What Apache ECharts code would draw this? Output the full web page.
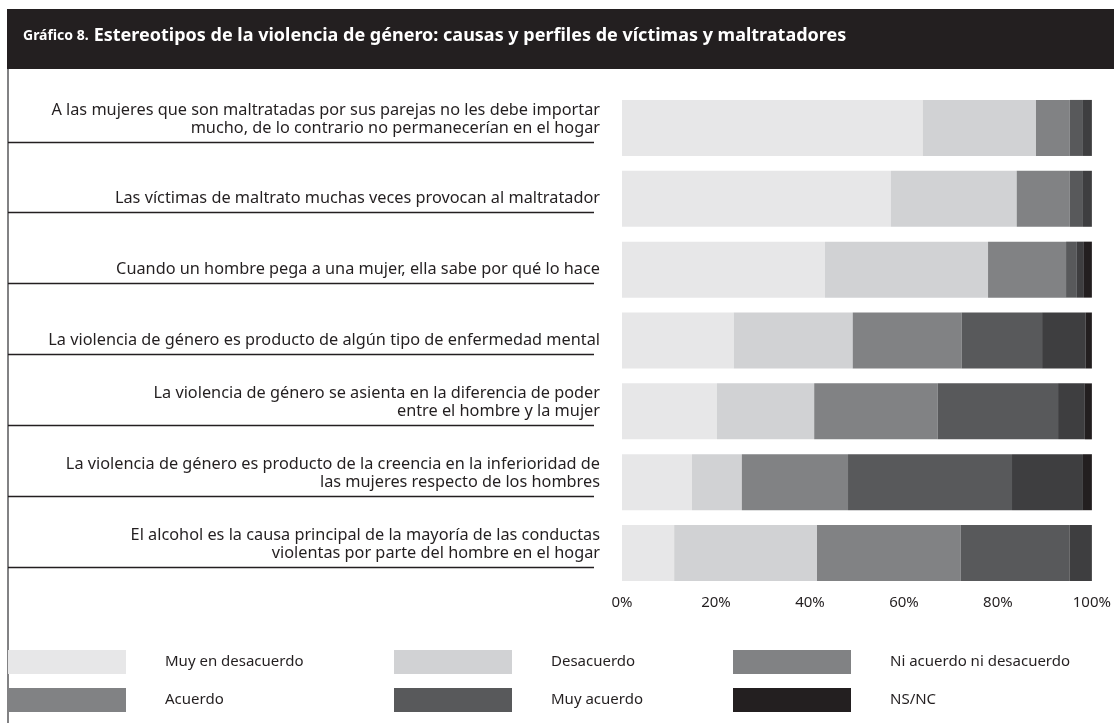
<!DOCTYPE html>
<html>
<head>
<meta charset="utf-8">
<script src="https://cdn.jsdelivr.net/npm/echarts@6/dist/echarts.min.js"></script>
<style>
  html, body { margin: 0; padding: 0; background: #fff; }
  #chart { width: 1114px; height: 723px; }
</style>
</head>
<body>
<div id="chart"></div>
<script>
// categorías (de arriba abajo)
const categories = [
  'A las mujeres que son maltratadas por sus parejas no les debe importar\nmucho, de lo contrario no permanecerían en el hogar',
  'Las víctimas de maltrato muchas veces provocan al maltratador',
  'Cuando un hombre pega a una mujer, ella sabe por qué lo hace',
  'La violencia de género es producto de algún tipo de enfermedad mental',
  'La violencia de género se asienta en la diferencia de poder\nentre el hombre y la mujer',
  'La violencia de género es producto de la creencia en la inferioridad de\nlas mujeres respecto de los hombres',
  'El alcohol es la causa principal de la mayoría de las conductas\nviolentas por parte del hombre en el hogar'
];

const seriesNames = ['Muy en desacuerdo', 'Desacuerdo', 'Ni acuerdo ni desacuerdo', 'Acuerdo', 'Muy acuerdo', 'NS/NC'];

// porcentajes
const muyDesacuerdo = [64.0, 57.2, 43.2, 23.8, 20.2, 14.9, 11.1];
const desacuerdo    = [24.1, 26.8, 34.7, 25.3, 20.7, 10.6, 30.4];
const niAcuerdo     = [7.2, 11.3, 16.6, 23.2, 26.3, 22.6, 30.6];
const acuerdo       = [2.8, 2.8, 2.3, 17.1, 25.6, 34.9, 23.2];
const muyAcuerdo    = [1.9, 1.9, 1.5, 9.3, 5.7, 15.1, 4.7];
const nsnc          = [0, 0, 1.7, 1.3, 1.5, 1.9, 0];

const values = [muyDesacuerdo, desacuerdo, niAcuerdo, acuerdo, muyAcuerdo, nsnc];
const barColors = ['#e7e7e8', '#d1d2d4', '#818284', '#58595b', '#3e3e40', '#231f20'];
// el original repite el gris medio en la leyenda de "Acuerdo"
const legendColors = ['#e7e7e8', '#d1d2d4', '#818284', '#818284', '#58595b', '#231f20'];

const FONT = 'Noto Sans';
const TXT = '#231f20';

let chartDom = document.getElementById('chart');
let myChart = echarts.init(chartDom);
let option;

function legendCol(idx, left) {
  return {
    orient: 'vertical',
    left: left,
    top: 650,
    padding: 0,
    itemWidth: 118,
    itemHeight: 24,
    itemGap: 14,
    selectedMode: false,
    icon: 'rect',
    textStyle: { fontFamily: FONT, fontSize: 15, color: TXT, padding: [0, 0, 0, 34] },
    data: idx.map(i => ({ name: seriesNames[i], itemStyle: { color: legendColors[i] } }))
  };
}

option = {
  animation: false,
  backgroundColor: '#fff',
  title: {
    left: 23,
    top: 27,
    padding: 0,
    text: '{a|Gráfico 8.} {b|Estereotipos de la violencia de género: causas y perfiles de víctimas y maltratadores}',
    textStyle: {
      rich: {
        a: { fontFamily: FONT, fontWeight: 'bold', fontSize: 14, color: '#fff' },
        b: { fontFamily: FONT, fontWeight: 'bold', fontSize: 18, color: '#fff' }
      }
    }
  },
  graphic: [
    { type: 'rect', z: -1, shape: { x: 7, y: 9, width: 1107, height: 60 }, style: { fill: '#231f20' } },
    { type: 'line', shape: { x1: 8, y1: 69, x2: 8, y2: 723 }, style: { stroke: '#58595b', lineWidth: 1.5 } }
  ],
  legend: [legendCol([0, 3], 8), legendCol([1, 4], 394), legendCol([2, 5], 733)],
  grid: [
    { left: 622, right: 22, top: 92.5, bottom: 134.5 },
    { left: 8, right: 520, top: 141.8, bottom: 156.2 }
  ],
  xAxis: [
    {
      type: 'value', gridIndex: 0, min: 0, max: 100, interval: 20,
      axisLine: { show: false }, axisTick: { show: false }, splitLine: { show: false },
      axisLabel: { formatter: '{value}%', fontFamily: FONT, fontSize: 15, color: TXT, margin: 7 }
    },
    { type: 'value', gridIndex: 1, min: 0, max: 1, show: false }
  ],
  yAxis: [
    {
      type: 'category', gridIndex: 0, inverse: true, data: categories,
      axisLine: { show: false }, axisTick: { show: false },
      axisLabel: {
        interval: 0, margin: 22, align: 'right',
        fontFamily: FONT, fontSize: 16.3, lineHeight: 18, color: TXT,
        formatter: v => v.indexOf('\n') >= 0 ? v + '\n ' : v
      }
    },
    {
      // reglas horizontales bajo cada etiqueta
      type: 'value', gridIndex: 1, min: 0, max: 6, interval: 1,
      axisLine: { show: false }, axisTick: { show: false }, axisLabel: { show: false },
      splitLine: { show: true, lineStyle: { color: '#231f20', width: 1.3 } }
    }
  ],
  series: values.map((arr, i) => ({
    name: seriesNames[i],
    type: 'bar',
    stack: 'total',
    xAxisIndex: 0,
    yAxisIndex: 0,
    barWidth: 56,
    itemStyle: { color: barColors[i] },
    data: arr
  }))
};

option && myChart.setOption(option);
</script>
</body>
</html>
